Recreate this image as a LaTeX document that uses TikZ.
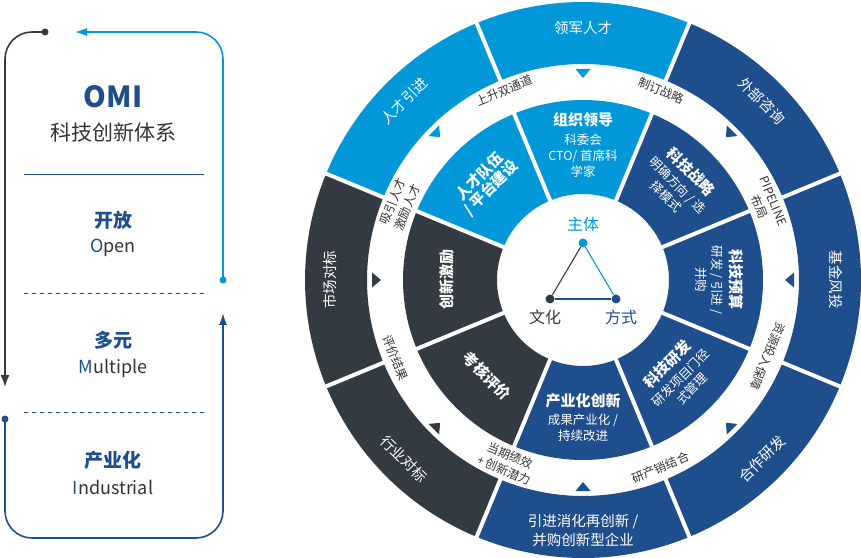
\documentclass[tikz,border=0pt]{standalone}
\usepackage{fontspec}
\setmainfont{Noto Sans CJK SC}
\usepackage{xcolor}
\usetikzlibrary{arrows.meta, positioning}

\definecolor{omiblue}{HTML}{0098D8}
\definecolor{ominavy}{HTML}{1F4E8C}
\definecolor{omigray}{HTML}{343A42}
\definecolor{omitext}{HTML}{333333}

\tikzset{
    ringtext/.style={text=white, align=center, inner sep=0pt, font=\fontsize{14.5}{19}\selectfont},
    midtext/.style={text=white, align=center, inner sep=0pt, font=\fontsize{12.5}{16}\selectfont},
    gaptext/.style={text=omitext, align=center, inner sep=0pt, font=\fontsize{12}{15.5}\selectfont},
    flow/.style={line width=1.6pt, rounded corners=27pt},
    enddot/.style={circle, fill, inner sep=0pt, minimum size=7pt},
    cornerdot/.style={circle, fill, inner sep=0pt, minimum size=9pt},
    cornerlabel/.style={inner sep=0pt, font=\fontsize{16}{18}\selectfont},
    panelcn/.style={text=ominavy, font=\fontsize{19}{22}\selectfont\bfseries},
    panelen/.style={text=omitext, font=\fontsize{18}{21}\selectfont},
}
\newcommand{\midtitle}[1]{{\fontsize{15}{18}\selectfont\bfseries #1}}

\begin{document}
\begin{tikzpicture}[>=Latex, x=1pt, y=1pt]
    \useasboundingbox (0,0) rectangle (861,557);

    % 1. 左侧循环
    \node[enddot, omigray] (grayDot) at (45,525) {};
    \coordinate (grayEnd) at (5,170);
    \draw[flow, omigray, -{Latex[length=12pt, width=9pt]}] (grayDot.center) -| (grayEnd);

    \node[enddot, omiblue] (blueDot) at (223,277) {};
    \coordinate (blueEnd) at (75,525);
    \draw[flow, omiblue, -{Latex[length=12pt, width=8pt]}] (blueDot.center) |- (blueEnd);

    \node[enddot, ominavy] (navyDot) at (5,138) {};
    \coordinate (navyBase) at (114,19);
    \coordinate (navyEnd) at (223,244);
    \draw[flow, ominavy, -{Latex[length=12pt, width=8pt]}] (navyDot.center) |- (navyBase) -| (navyEnd);

    \node[text=ominavy, font=\fontsize{29}{32}\selectfont\bfseries] (omiTitle) at (113,460) {OMI};
    \node[text=omitext, font=\fontsize{21}{24}\selectfont] (omiSub) at (113,425) {科技创新体系};
    \draw[ominavy, line width=0.8pt] (24,383) -- (204,383);
    \node[panelcn] (openCn) at (113,337) {开放};
    \node[panelen] (openEn) at (113,309) {{\color{ominavy}O}pen};
    \draw[ominavy, line width=0.8pt, dash pattern=on 4pt off 4pt] (24,264) -- (204,264);
    \node[panelcn] (multiCn) at (113,217) {多元};
    \node[panelen] (multiEn) at (113,189) {{\color{ominavy}M}ultiple};
    \draw[ominavy, line width=0.8pt, dash pattern=on 4pt off 4pt] (24,145) -- (204,145);
    \node[panelcn] (induCn) at (113,97) {产业化};
    \node[panelen] (induEn) at (113,70) {{\color{ominavy}I}ndustrial};

    \begin{scope}[shift={(583,277)}]
        % 2. 内外两环与小三角
        \foreach \a/\c in {90/omiblue, 45/ominavy, 0/ominavy, -45/ominavy,
                           -90/ominavy, -135/omigray, 180/omigray, 135/omiblue} {
            \fill[\c] (\a-22.5:278) arc[start angle=\a-22.5, end angle=\a+22.5, radius=278]
                -- (\a+22.5:216) arc[start angle=\a+22.5, end angle=\a-22.5, radius=216] -- cycle;
            \fill[\c] (\a-22.5:180) arc[start angle=\a-22.5, end angle=\a+22.5, radius=180]
                -- (\a+22.5:86) arc[start angle=\a+22.5, end angle=\a-22.5, radius=86] -- cycle;
            \fill[\c, rotate=\a] (202,0) -- (211,7.5) -- (211,-7.5) -- cycle;
        }
        \foreach \a in {22.5,67.5,...,337.5} {
            \draw[white, line width=4pt] (\a:80) -- (\a:292);
        }

        % 3. 外环文字
        \node[ringtext] (leader) at (90:252) {领军人才};
        \node[ringtext, rotate=-45] (consult) at (45:253) {外部咨询};
        \node[ringtext, rotate=-90] (fund) at (0:253) {基金风投};
        \node[ringtext, rotate=45] (coop) at (-45:253) {合作研发};
        \node[ringtext] (merge) at (-90:251) {引进消化再创新 /\\并购创新型企业};
        \node[ringtext, rotate=-45] (benchInd) at (-135:253) {行业对标};
        \node[ringtext, rotate=90] (benchMkt) at (180:253) {市场对标};
        \node[ringtext, rotate=45] (talentIn) at (135:253) {人才引进};

        % 4. 内环文字
        \node[midtext] (org) at (90:135) {\midtitle{组织领导}\\[3pt]科委会\\CTO/ 首席科\\学家};
        \node[midtext, rotate=-45] (strategy) at (45:136) {\midtitle{科技战略}\\[2pt]明确方向 / 选\\择模式};
        \node[midtext, rotate=-90] (budget) at (0:136) {\midtitle{科技预算}\\[2pt]研发 / 引进 /\\并购};
        \node[midtext, rotate=45] (rnd) at (-45:136) {\midtitle{科技研发}\\[2pt]研发项目门径\\式管理};
        \node[midtext] (industrial) at (-90:138) {\midtitle{产业化创新}\\[2pt]成果产业化 /\\持续改进};
        \node[midtext, rotate=-45] (assess) at (-135:136) {\midtitle{考核评价}};
        \node[midtext, rotate=90] (incent) at (180:136) {\midtitle{创新激励}};
        \node[midtext, rotate=45] (team) at (135:138) {\midtitle{人才队伍}\\\midtitle{/ 平台建设}};

        % 5. 间隔环文字
        \node[gaptext, rotate=22.5] (rise) at (112.5:205) {上升双通道};
        \node[gaptext, rotate=-22.5] (plan) at (67.5:205) {制订战略};
        \node[gaptext, rotate=-67.5] (pipeline) at (22.5:198) {PIPELINE\\布局};
        \node[gaptext, rotate=-112.5] (resource) at (-22.5:200) {资源投入保障};
        \node[gaptext, rotate=22.5] (combine) at (-67.5:203) {研产销结合};
        \node[gaptext, rotate=-22.5] (perf) at (-112.5:198) {当期绩效\\+ 创新潜力};
        \node[gaptext, rotate=-67.5] (evalRes) at (-157.5:203) {评价结果};
        \node[gaptext, rotate=67.5] (attract) at (157.5:198) {吸引人才\\激励人才};

        % 6. 中心三角
        \node[cornerdot, fill=omiblue] (subject) at (0,37) {};
        \node[cornerdot, fill=omigray] (culture) at (-33,-19) {};
        \node[cornerdot, fill=ominavy] (method) at (33,-19) {};
        \draw[omigray, line width=1.1pt] (subject) -- (culture);
        \draw[omiblue, line width=1.1pt] (subject) -- (method);
        \draw[ominavy, line width=1.1pt] (culture) -- (method);
        \node[cornerlabel, text=omiblue, above=6pt of subject] (subjectLabel) {主体};
        \node[cornerlabel, text=omigray, below=6pt of culture, xshift=-5pt] (cultureLabel) {文化};
        \node[cornerlabel, text=ominavy, below=6pt of method, xshift=5pt] (methodLabel) {方式};
    \end{scope}
\end{tikzpicture}
\end{document}
